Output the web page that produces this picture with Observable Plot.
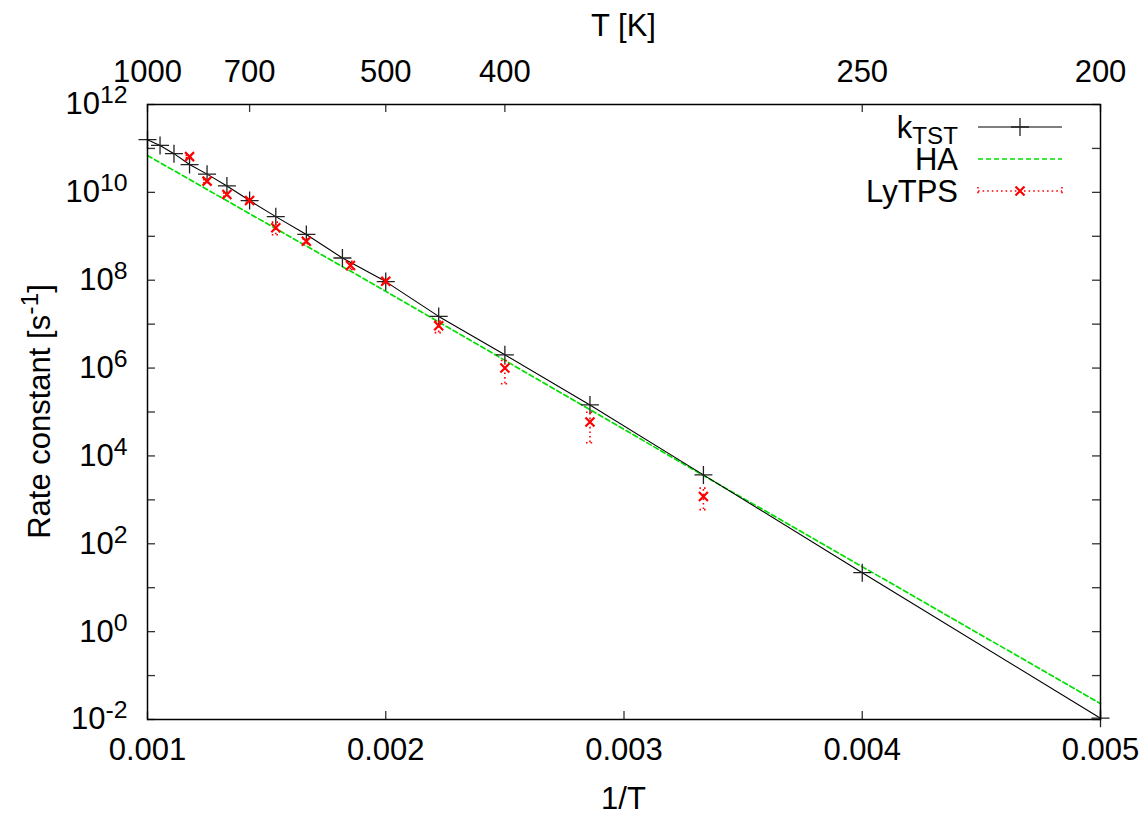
<!DOCTYPE html>
<html><head><meta charset="utf-8">
<script src="https://cdn.jsdelivr.net/npm/d3@7"></script>
<script src="https://cdn.jsdelivr.net/npm/@observablehq/plot@0.6"></script>
<style>body{margin:0;background:#fff} #chart svg{display:block;background:#fff}</style>
</head><body><div id="chart"></div>
<script>
// ---- data ----
const T_TST = [1000, 950, 900, 850, 800, 750, 700, 650, 600, 550, 500, 450, 400, 350, 300, 250, 200];
const k_TST = [1.58e11, 1.17e11, 7.6e10, 4.3e10, 2.6e10, 1.4e10, 6.5e9, 2.8e9, 1.1e9, 3.2e8, 9.3e7, 1.5e7, 2.0e6, 1.45e5, 3.7e3, 22, 1.07e-2];

const T_HA = [1000, 500, 300, 200];
const k_HA = [6.9e10, 5.6e7, 3.6e3, 2.3e-2];

const T_LY  = [850, 800, 750, 700, 650, 600, 540, 500, 450, 400, 350, 300];
const k_LY  = [6.5e10, 1.8e10, 8.9e9, 6.5e9, 1.56e9, 7.7e8, 2.16e8, 9.5e7, 9.2e6, 1.0e6, 5.9e4, 1.19e3];
const lo_LY = [6.1e10, 1.65e10, 8.1e9, 6.0e9, 1.08e9, 6.8e8, 1.73e8, 8.6e7, 6.4e6, 4.4e5, 2.0e4, 6.0e2];
const hi_LY = [6.9e10, 1.95e10, 9.7e9, 7.0e9, 2.1e9, 8.7e8, 2.7e8, 1.05e8, 1.17e7, 1.49e6, 9.9e4, 1.85e3];

const xTicks = [0.001, 0.002, 0.003, 0.004, 0.005];
const topTicksT = [1000, 700, 500, 400, 250, 200];
const yTicksAll = d3.range(-2, 13).map(e => Math.pow(10, e));
const yTickLabels = d3.range(-2, 13, 2).map(e => Math.pow(10, e));

const seriesNames = ["k", "HA", "LyTPS"];
const titleTop = "T [K]";
const titleBottom = "1/T";
const titleY = "Rate constant [s";

// ---- tables ----
const tst = T_TST.map((T, i) => ({x: 1 / T, k: k_TST[i]}));
const ha = T_HA.map((T, i) => ({x: 1 / T, k: k_HA[i]}));
const ly = T_LY.map((T, i) => ({x: 1 / T, k: k_LY[i], lo: lo_LY[i], hi: hi_LY[i]}));

// ---- layout ----
const FONT = '"Liberation Sans", Arial, Helvetica, sans-serif';
const FS = 31;
const W = 1148, H = 816, ML = 147, MR = 48, MT = 104, MB = 97;
const PW = W - ML - MR, PH = H - MT - MB;

const rad = s => Math.sqrt(s / Math.PI);
const plusSym = {draw(c, s) { const r = rad(s); c.moveTo(-r, 0); c.lineTo(r, 0); c.moveTo(0, -r); c.lineTo(0, r); }};
const crossSym = {draw(c, s) { const r = rad(s); c.moveTo(-r, -r); c.lineTo(r, r); c.moveTo(-r, r); c.lineTo(r, -r); }};
const hSym = {draw(c, s) { const r = rad(s); c.moveTo(-r, 0); c.lineTo(r, 0); }};

const RED = "#ff0000", GREEN = "#00e000";

const plot = Plot.plot({
  width: W, height: H,
  marginLeft: ML, marginRight: MR, marginTop: MT, marginBottom: MB,
  style: {fontFamily: FONT, fontSize: FS + "px", background: "#fff", color: "#000"},
  x: {domain: [0.001, 0.005]},
  y: {type: "log", domain: [1e-2, 1e12]},
  marks: [
    // inward ticks
    Plot.ruleY(yTicksAll, {y: d => d, insetRight: PW - 8, stroke: "#333", strokeWidth: 1.3}),
    Plot.ruleY(yTicksAll, {y: d => d, insetLeft: PW - 8, stroke: "#333", strokeWidth: 1.3}),
    Plot.ruleX(xTicks, {x: d => d, insetTop: PH - 8, stroke: "#333", strokeWidth: 1.3}),
    Plot.ruleX(topTicksT.map(t => 1 / t), {x: d => d, insetBottom: PH - 8, stroke: "#333", strokeWidth: 1.3}),
    // axes labels
    Plot.axisY({ticks: yTickLabels, tickSize: 0, tickPadding: 20, fontSize: FS,
      tickFormat: d => String(Math.round(Math.log10(d))), label: null}),
    Plot.axisX({anchor: "bottom", ticks: xTicks, tickSize: 0, tickPadding: 18, fontSize: FS,
      tickFormat: d3.format(".3f"), label: null}),
    Plot.axisX({anchor: "top", ticks: topTicksT.map(t => 1 / t), tickSize: 0, tickPadding: 23, fontSize: FS,
      tickFormat: d => String(Math.round(1 / d)), label: null}),
    // data
    Plot.line(ha, {x: "x", y: "k", stroke: GREEN, strokeWidth: 1.7, strokeDasharray: "5,3"}),
    Plot.line(tst, {x: "x", y: "k", stroke: "#000", strokeWidth: 1.1}),
    Plot.dot(tst, {x: "x", y: "k", symbol: plusSym, r: 9, fill: "none", stroke: "#222", strokeWidth: 1.3}),
    Plot.ruleX(ly, {x: "x", y1: "lo", y2: "hi", stroke: RED, strokeWidth: 1.6, strokeDasharray: "1.6,3"}),
    Plot.dot(ly, {x: "x", y: "lo", symbol: hSym, r: 4, fill: "none", stroke: RED, strokeWidth: 1.6, strokeDasharray: "1.6,3"}),
    Plot.dot(ly, {x: "x", y: "hi", symbol: hSym, r: 4, fill: "none", stroke: RED, strokeWidth: 1.6, strokeDasharray: "1.6,3"}),
    Plot.dot(ly, {x: "x", y: "k", symbol: crossSym, r: 4.5, fill: "none", stroke: RED, strokeWidth: 2.2}),
    Plot.frame({stroke: "#000", strokeWidth: 1.5})
  ]
});

const NS = "http://www.w3.org/2000/svg";
// superscripts for y tick labels
plot.querySelectorAll('g[aria-label="y-axis tick label"] text').forEach(t => {
  const e = t.textContent;
  t.textContent = "10";
  const s = document.createElementNS(NS, "tspan");
  s.setAttribute("font-size", "0.8em");
  s.setAttribute("dy", "-11");
  s.textContent = e;
  t.appendChild(s);
});

const svg = d3.select(plot);
const g = svg.append("g").attr("font-family", FONT).attr("font-size", FS).attr("fill", "#000");
// titles
g.append("text").attr("x", ML + PW / 2).attr("y", 36).attr("text-anchor", "middle").text(titleTop);
g.append("text").attr("x", ML + PW / 2).attr("y", 809).attr("text-anchor", "middle").text(titleBottom);
const yl = g.append("text").attr("text-anchor", "middle")
  .attr("transform", `translate(50,${MT + PH / 2}) rotate(-90)`);
yl.append("tspan").text(titleY);
yl.append("tspan").attr("font-size", "0.8em").attr("dy", "-12").text("-1");
yl.append("tspan").attr("dy", "12").text("]");

// legend
const rowsY = [127, 159, 191];
const tx = 958, lx1 = 978, lx2 = 1062, lm = 1020;
const t0 = g.append("text").attr("x", tx).attr("y", rowsY[0]).attr("dy", "0.35em").attr("text-anchor", "end");
t0.append("tspan").text(seriesNames[0]);
t0.append("tspan").attr("font-size", "0.78em").attr("dy", "6").text("TST");
g.append("text").attr("x", tx).attr("y", rowsY[1]).attr("dy", "0.35em").attr("text-anchor", "end").text(seriesNames[1]);
g.append("text").attr("x", tx).attr("y", rowsY[2]).attr("dy", "0.35em").attr("text-anchor", "end").text(seriesNames[2]);

const lg = svg.append("g").attr("fill", "none");
lg.append("line").attr("x1", lx1).attr("x2", lx2).attr("y1", rowsY[0]).attr("y2", rowsY[0]).attr("stroke", "#000").attr("stroke-width", 1.1);
lg.append("path").attr("d", `M${lm - 9},${rowsY[0]}h18M${lm},${rowsY[0] - 9}v18`).attr("stroke", "#222").attr("stroke-width", 1.3);
lg.append("line").attr("x1", lx1).attr("x2", lx2).attr("y1", rowsY[1]).attr("y2", rowsY[1]).attr("stroke", GREEN).attr("stroke-width", 1.7).attr("stroke-dasharray", "5,3");
lg.append("line").attr("x1", lx1).attr("x2", lx2).attr("y1", rowsY[2]).attr("y2", rowsY[2]).attr("stroke", RED).attr("stroke-width", 1.6).attr("stroke-dasharray", "1.6,3");
lg.append("path").attr("d", `M${lx1},${rowsY[2] - 4}v8M${lx2},${rowsY[2] - 4}v8`).attr("stroke", RED).attr("stroke-width", 1.6).attr("stroke-dasharray", "1.6,3");
lg.append("path").attr("d", `M${lm - 4.5},${rowsY[2] - 4.5}l9,9M${lm - 4.5},${rowsY[2] + 4.5}l9,-9`).attr("stroke", RED).attr("stroke-width", 2.2);

document.getElementById("chart").appendChild(plot);
</script>
</body></html>
